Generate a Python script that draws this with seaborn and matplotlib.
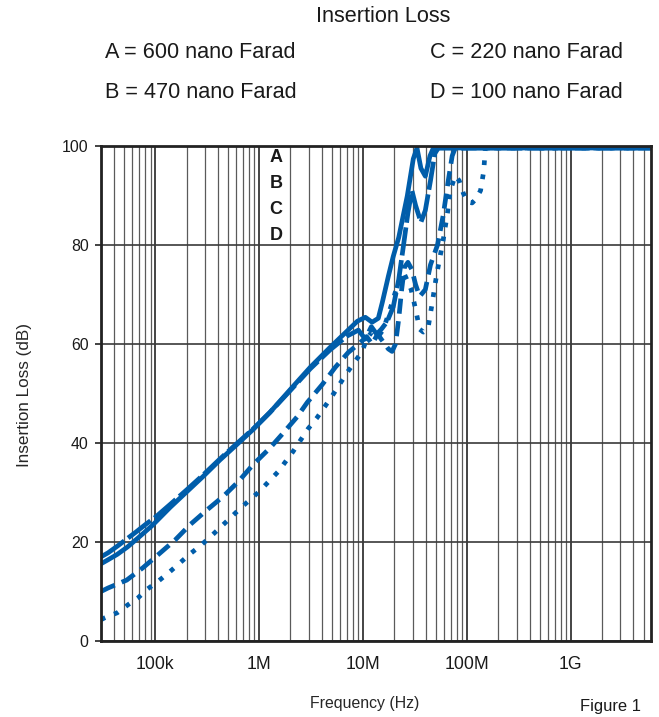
"""
Insertion loss vs frequency for four filter capacitances (log frequency axis).
"""

import matplotlib

matplotlib.use("Agg")

import matplotlib.pyplot as plt
import numpy as np
import pandas as pd
import seaborn as sns
from matplotlib import font_manager
from matplotlib.ticker import FixedFormatter, FixedLocator, LogLocator, NullFormatter

# ---- data ----
CURVES = ["A", "B", "C", "D"]
LEGEND_LINES = ["A = 600 nano Farad", "B = 470 nano Farad",
                "C = 220 nano Farad", "D = 100 nano Farad"]

freq_a = [3.0e4, 3.5e4, 4.3e4, 5.4e4, 6.8e4, 9.3e4, 1.39e5, 2.02e5, 2.87e5, 4.2e5,
          6.1e5, 8.7e5, 1.27e6, 1.99e6, 3.1e6, 4.8e6, 7.0e6, 8.8e6, 1.05e7, 1.22e7,
          1.4e7, 1.53e7, 1.75e7, 1.95e7, 2.2e7, 2.66e7, 3.04e7, 3.3e7, 3.6e7, 3.97e7,
          4.4e7, 4.7e7, 4.9e7, 5.9e9]
loss_a = [15.6, 16.4, 17.5, 19.0, 20.8, 23.3, 27.0, 30.2, 33.2, 36.6,
          39.7, 42.7, 46.2, 50.8, 55.3, 59.3, 62.6, 64.6, 65.4, 64.4,
          65.2, 68.4, 73.7, 77.7, 81.5, 89.9, 97.4, 99.6, 95.5, 93.9,
          98.0, 99.4, 99.6, 99.6]

freq_b = [3.0e4, 3.5e4, 4.4e4, 5.3e4, 6.5e4, 8.0e4, 1.0e5, 1.39e5, 2.02e5, 2.87e5,
          4.2e5, 6.1e5, 8.7e5, 1.27e6, 1.99e6, 3.1e6, 4.8e6, 7.0e6, 9.0e6, 1.05e7,
          1.2e7, 1.35e7, 1.5e7, 1.7e7, 1.95e7, 2.2e7, 2.45e7, 2.7e7, 2.95e7, 3.2e7,
          3.6e7, 3.97e7, 4.45e7, 4.9e7, 5.3e7, 5.9e9]
loss_b = [17.0, 17.8, 19.3, 20.6, 22.0, 23.5, 25.0, 27.6, 30.6, 33.5,
          36.8, 39.9, 42.8, 46.2, 50.6, 55.0, 58.8, 61.6, 62.8, 61.0,
          63.5, 62.0, 63.0, 64.5, 67.5, 73.0, 80.0, 86.5, 91.0, 88.0,
          84.6, 87.0, 93.0, 98.5, 99.6, 99.6]

freq_c = [3.0e4, 3.5e4, 5.3e4, 7.6e4, 1.06e5, 1.55e5, 2.16e5, 3.15e5, 4.5e5, 6.3e5,
          8.7e5, 1.27e6, 1.7e6, 2.32e6, 2.9e6, 4.04e6, 5.4e6, 7.2e6, 9.4e6, 1.08e7,
          1.22e7, 1.38e7, 1.55e7, 1.75e7, 1.9e7, 2.05e7, 2.2e7, 2.35e7, 2.5e7, 2.7e7,
          2.95e7, 3.2e7, 3.5e7, 3.97e7, 4.45e7, 5.2e7, 5.9e7, 6.6e7, 7.2e7, 7.7e7,
          5.9e9]
loss_c = [10.0, 10.7, 12.3, 14.8, 17.4, 20.4, 23.5, 26.5, 29.2, 32.2,
          35.6, 39.0, 42.0, 45.3, 48.2, 51.8, 55.3, 58.3, 60.3, 61.5,
          60.0, 62.0, 60.5, 59.0, 58.5, 60.0, 65.0, 71.0, 75.5, 76.5,
          75.0, 72.0, 69.6, 71.0, 76.0, 80.0, 86.0, 93.0, 98.0, 99.6,
          99.6]

freq_d = [3.0e4, 3.27e4, 4.3e4, 5.44e4, 6.8e4, 8.4e4, 1.07e5, 1.38e5, 1.73e5, 2.16e5,
          2.7e5, 3.37e5, 4.2e5, 6.5e5, 1.0e6, 1.52e6, 2.12e6, 2.96e6, 3.6e6, 5.0e6,
          7.0e6, 9.8e6, 1.08e7, 1.22e7, 1.4e7, 1.57e7, 1.84e7, 2.15e7, 2.45e7, 2.9e7,
          3.2e7, 3.5e7, 3.8e7, 4.2e7, 4.6e7, 5.1e7, 5.9e7, 6.5e7, 6.9e7, 7.7e7,
          8.4e7, 9.2e7, 1.01e8, 1.12e8, 1.22e8, 1.35e8, 1.45e8, 1.5e8, 5.9e9]
loss_d = [4.3, 4.7, 5.7, 7.3, 8.7, 10.5, 12.1, 14.0, 15.8, 17.6,
          19.2, 21.0, 22.9, 26.7, 30.2, 34.2, 38.3, 42.9, 45.1, 49.4,
          54.2, 58.5, 61.0, 62.5, 61.5, 63.0, 67.4, 72.0, 74.5, 71.0,
          67.0, 63.0, 62.4, 63.0, 68.0, 74.0, 81.0, 86.6, 91.0, 94.0,
          93.0, 90.5, 88.7, 88.5, 89.3, 91.0, 95.0, 99.6, 99.6]

X_TICKS = [1e5, 1e6, 1e7, 1e8, 1e9]
X_TICK_LABELS = ["100k", "1M", "10M", "100M", "1G"]
Y_TICKS = [0, 20, 40, 60, 80, 100]

BLUE = "#005DAA"
DASHES = {"A": "", "B": (6, 1.0), "C": (3.2, 1.6), "D": (1, 2.0)}

# ---- style ----
sns.set_theme(style="ticks")
narrow = any(f.name == "Liberation Sans Narrow" for f in font_manager.fontManager.ttflist)
family = "Liberation Sans Narrow" if narrow else "Liberation Sans"
scale = 1.0 if narrow else 0.82
plt.rcParams["font.family"] = [family, "DejaVu Sans"]
plt.rcParams["text.color"] = "#1a1a1a"

frames = []
for name, f, v in zip(CURVES, [freq_a, freq_b, freq_c, freq_d],
                      [loss_a, loss_b, loss_c, loss_d]):
    frames.append(pd.DataFrame({"freq": f, "loss": v, "cap": name}))
df = pd.concat(frames, ignore_index=True)

fig = plt.figure(figsize=(6.59, 7.17), dpi=100)
ax = fig.add_axes([101 / 659, 1 - 641 / 717, 550 / 659, 495 / 717])
ax.set_xscale("log")

sns.lineplot(data=df, x="freq", y="loss", style="cap", style_order=CURVES[::-1],
             dashes=DASHES, color=BLUE, linewidth=3.4, estimator=None, sort=False,
             legend=False, ax=ax)

ax.set_xlim(3e4, 5.9e9)
ax.set_ylim(0, 100)
ax.xaxis.set_major_locator(FixedLocator(X_TICKS))
ax.xaxis.set_major_formatter(FixedFormatter(X_TICK_LABELS))
ax.xaxis.set_minor_locator(LogLocator(base=10, subs=np.arange(2, 10) * 1.0, numticks=50))
ax.xaxis.set_minor_formatter(NullFormatter())
ax.set_yticks(Y_TICKS)

ax.set_axisbelow(True)
ax.grid(which="major", axis="x", color="#111111", linewidth=1.1)
ax.grid(which="minor", axis="x", color="#5a5a5a", linewidth=0.9)
ax.grid(which="major", axis="y", color="#3a3a3a", linewidth=1.2)

ax.tick_params(axis="x", which="both", length=0, pad=11, labelsize=15.5 * scale,
               labelcolor="#1a1a1a")
ax.tick_params(axis="y", length=4, width=1.2, direction="out", pad=5,
               labelsize=14 * scale, labelcolor="#1a1a1a", color="#222222")
for s in ax.spines.values():
    s.set_linewidth(2)
    s.set_color("#222222")

ax.set_xlabel("Frequency (Hz)", fontsize=14 * scale)
ax.xaxis.set_label_coords(0.48, -0.112)
ax.set_ylabel("Insertion Loss (dB)", fontsize=15 * scale)
ax.yaxis.set_label_coords(-0.125, 0.497)

# curve letters stacked inside the plot
for i, name in enumerate(CURVES):
    ax.text(0.318, 0.976 - i * 0.0525, name, transform=ax.transAxes, ha="center",
            va="center", fontsize=13, fontweight="bold")

fig.text(383 / 659, 1 - 17 / 717, "Insertion Loss", ha="center", va="center",
         fontsize=19 * scale)
legend_pos = [(105, 53), (105, 93), (430, 53), (430, 93)]
for text, (x, y) in zip(LEGEND_LINES, legend_pos):
    fig.text(x / 659, 1 - y / 717, text, ha="left", va="center", fontsize=19 * scale)
fig.text(610 / 659, 1 - 707 / 717, "Figure 1", ha="center", va="center",
         fontsize=14.5 * scale)

fig.savefig("out.png", dpi=100)
plt.close(fig)
